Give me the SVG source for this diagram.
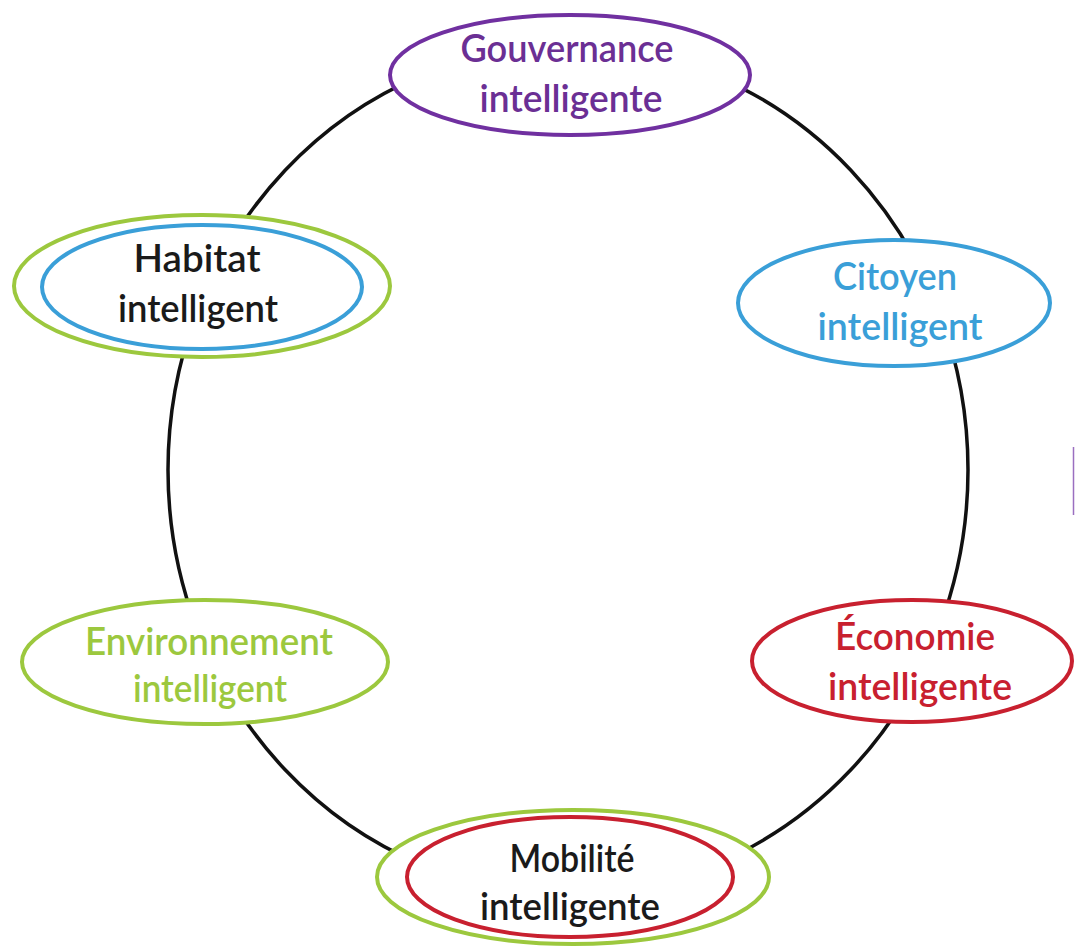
<svg xmlns="http://www.w3.org/2000/svg" width="1075" height="949" viewBox="0 0 1075 949">
<style>
.node{fill:#ffffff;stroke-width:4}
.lbl{font-family:Lato,"Open Sans","Liberation Sans",sans-serif;font-size:38px;font-weight:600;text-anchor:middle}
.purple{stroke:#7030a0}
.blue{stroke:#3a9fd8}
.green{stroke:#9cc83e}
.red{stroke:#c8202f}
</style>
<rect width="1075" height="949" fill="#ffffff"/>
<g id="connectors">
<ellipse cx="568" cy="470" rx="400" ry="424" fill="none" stroke="#111111" stroke-width="3.5"/>
<line x1="1073.5" y1="447" x2="1073.5" y2="515" stroke="#9b6fc0" stroke-width="1.5"/>
</g>
<g id="gouvernance">
<ellipse class="node purple" cx="570" cy="75" rx="180" ry="60"/>
<text class="lbl" fill="#6b2f94" x="567" y="62" textLength="213" lengthAdjust="spacingAndGlyphs">Gouvernance</text>
<text class="lbl" fill="#6b2f94" x="571" y="112" textLength="183" lengthAdjust="spacingAndGlyphs">intelligente</text>
</g>
<g id="citoyen">
<ellipse class="node blue" cx="894" cy="303" rx="156" ry="63"/>
<text class="lbl" fill="#3a9fd8" x="895" y="290" textLength="124" lengthAdjust="spacingAndGlyphs">Citoyen</text>
<text class="lbl" fill="#3a9fd8" x="900" y="340" textLength="165" lengthAdjust="spacingAndGlyphs">intelligent</text>
</g>
<g id="economie">
<ellipse class="node red" cx="912" cy="661" rx="160" ry="61"/>
<text class="lbl" fill="#c8202f" x="915" y="650" textLength="160" lengthAdjust="spacingAndGlyphs">Économie</text>
<text class="lbl" fill="#c8202f" x="920" y="700" textLength="184" lengthAdjust="spacingAndGlyphs">intelligente</text>
</g>
<g id="mobilite">
<ellipse class="node green" cx="573" cy="877" rx="196" ry="67"/>
<ellipse class="node red" cx="570" cy="877" rx="163" ry="60"/>
<text class="lbl" fill="#1a1a1a" x="572" y="872" textLength="125" lengthAdjust="spacingAndGlyphs">Mobilité</text>
<text class="lbl" fill="#1a1a1a" x="570" y="920" textLength="180" lengthAdjust="spacingAndGlyphs">intelligente</text>
</g>
<g id="environnement">
<ellipse class="node green" cx="205" cy="662" rx="183" ry="62"/>
<text class="lbl" fill="#9cc83e" x="209" y="655" textLength="248" lengthAdjust="spacingAndGlyphs">Environnement</text>
<text class="lbl" fill="#9cc83e" x="210" y="702" textLength="154" lengthAdjust="spacingAndGlyphs">intelligent</text>
</g>
<g id="habitat">
<ellipse class="node green" cx="202" cy="286" rx="188" ry="71"/>
<ellipse class="node blue" cx="202" cy="287" rx="160" ry="62"/>
<text class="lbl" fill="#1a1a1a" x="197" y="272" textLength="127" lengthAdjust="spacingAndGlyphs">Habitat</text>
<text class="lbl" fill="#1a1a1a" x="198" y="322" textLength="160" lengthAdjust="spacingAndGlyphs">intelligent</text>
</g>
</svg>
